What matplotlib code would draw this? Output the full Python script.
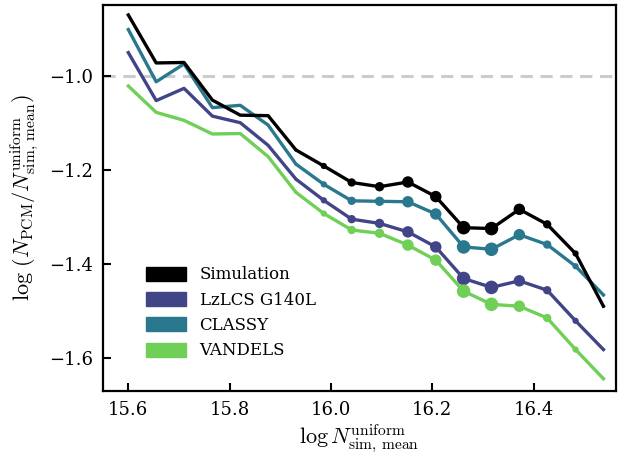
import matplotlib
matplotlib.use('Agg')
import matplotlib.pyplot as plt
from matplotlib.patches import Patch
import numpy as np

# log N_sim,mean bins
log_n = [15.600, 15.655, 15.710, 15.766, 15.821, 15.876, 15.931, 15.986, 16.041,
         16.096, 16.152, 16.207, 16.262, 16.317, 16.372, 16.427, 16.483, 16.538]

sim = [-0.870, -0.972, -0.971, -1.051, -1.083, -1.084, -1.157, -1.191, -1.226,
       -1.235, -1.225, -1.256, -1.322, -1.324, -1.283, -1.315, -1.377, -1.489]
lzlcs = [-0.950, -1.052, -1.026, -1.085, -1.099, -1.147, -1.219, -1.264, -1.304,
         -1.313, -1.331, -1.363, -1.430, -1.449, -1.435, -1.455, -1.520, -1.581]
classy = [-0.901, -1.012, -0.974, -1.067, -1.062, -1.104, -1.187, -1.230, -1.265,
          -1.266, -1.267, -1.293, -1.363, -1.368, -1.337, -1.358, -1.404, -1.465]
vandels = [-1.021, -1.077, -1.094, -1.123, -1.122, -1.171, -1.247, -1.292, -1.327,
           -1.334, -1.359, -1.391, -1.457, -1.485, -1.489, -1.514, -1.581, -1.643]

# relative weight of each bin (marker diameter in px)
weight = [0, 0, 0, 0, 0, 0, 3, 6, 8, 9, 11, 11, 13, 13, 11, 8, 6, 3]

names = ['Simulation', 'LzLCS G140L', 'CLASSY', 'VANDELS']
colors = ['black', '#414487', '#2a788e', '#6fcf57']
series = [sim, lzlcs, classy, vandels]

plt.rcParams['font.family'] = 'DejaVu Serif'
plt.rcParams['mathtext.fontset'] = 'cm'

fig = plt.figure(figsize=(6.28, 4.61), dpi=100)
ax = fig.add_axes([0.164, 0.152, 0.817, 0.837])

ax.axhline(-1.0, color='#cccccc', lw=2.2, ls=(0, (4, 2.5)), zorder=1)

x = np.array(log_n)
s = (np.array(weight) * 0.75) ** 2
for i in [3, 2, 1, 0]:
    y = np.array(series[i])
    z = 3 if i == 0 else 2 + i * 0.1
    ax.plot(x, y, color=colors[i], lw=2.4, zorder=z)
    ax.scatter(x, y, s=s, color=colors[i], zorder=z, linewidths=0)

ax.set_xlim(15.55, 16.563)
ax.set_ylim(-1.669, -0.849)
ax.set_xticks([15.6, 15.8, 16.0, 16.2, 16.4])
ax.set_yticks([-1.6, -1.4, -1.2, -1.0])
ax.tick_params(direction='in', length=6, width=1.5, labelsize=13, pad=7)
for sp in ax.spines.values():
    sp.set_linewidth(1.6)

ax.set_xlabel(r'$\log N_{\rm sim,\,mean}^{\rm uniform}$', fontsize=16, labelpad=3)
ax.set_ylabel(r'$\log\,(N_{\rm PCM}/N_{\rm sim,\,mean}^{\rm uniform})$',
              fontsize=16, labelpad=6)

handles = [Patch(facecolor=c, edgecolor=c) for c in colors]
ax.legend(handles, names, loc='lower left', bbox_to_anchor=(0.055, 0.043),
          frameon=False, fontsize=12, handlelength=2.4, handleheight=0.9,
          labelspacing=0.5, handletextpad=0.8)

fig.savefig('out.png', dpi=100)
